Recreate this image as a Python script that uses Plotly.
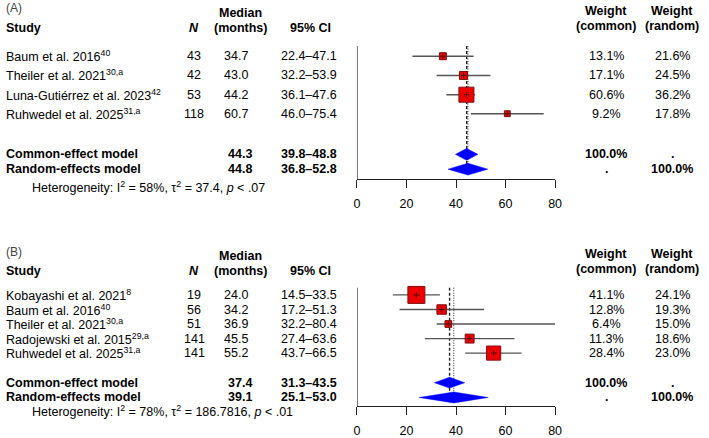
import plotly.graph_objects as go
import math

# ---------------- DATA ----------------
# Panel A
a_studies = ["Baum et al. 2016", "Theiler et al. 2021", "Luna-Gutiérrez et al. 2023", "Ruhwedel et al. 2025"]
a_refs = ["40", "30,a", "42", "31,a"]
a_n = [43, 42, 53, 118]
a_median = [34.7, 43.0, 44.2, 60.7]
a_lo = [22.4, 32.2, 36.1, 46.0]
a_hi = [47.1, 53.9, 47.6, 75.4]
a_w_common = [13.1, 17.1, 60.6, 9.2]
a_w_random = [21.6, 24.5, 36.2, 17.8]
a_common = (44.3, 39.8, 48.8)
a_random = (44.8, 36.8, 52.8)
a_het = "Heterogeneity: I<sup>2</sup> = 58%, τ<sup>2</sup> = 37.4, <i>p</i> &lt; .07"

# Panel B
b_studies = ["Kobayashi et al. 2021", "Baum et al. 2016", "Theiler et al. 2021", "Radojewski et al. 2015", "Ruhwedel et al. 2025"]
b_refs = ["8", "40", "30,a", "29,a", "31,a"]
b_n = [19, 56, 51, 141, 141]
b_median = [24.0, 34.2, 36.9, 45.5, 55.2]
b_lo = [14.5, 17.2, 32.2, 27.4, 43.7]
b_hi = [33.5, 51.3, 80.4, 63.6, 66.5]
b_w_common = [41.1, 12.8, 6.4, 11.3, 28.4]
b_w_random = [24.1, 19.3, 15.0, 18.6, 23.0]
b_common = (37.4, 31.3, 43.5)
b_random = (39.1, 25.1, 53.0)
b_het = "Heterogeneity: I<sup>2</sup> = 78%, τ<sup>2</sup> = 186.7816, <i>p</i> &lt; .01"

x_ticks = [0, 20, 40, 60, 80]

# ---------------- LAYOUT HELPERS ----------------
W, H = 709, 438
FONT = "Liberation Sans, Arial, sans-serif"
FS = 12.5
X0, X1 = 359, 560  # plot x-domain in px

fig = go.Figure()
annotations = []
shapes = []


def px(x):
    return x / W


def py(y):
    return 1 - y / H


def txt(x, y, s, anchor="left", bold=False, size=FS, color="black"):
    if bold:
        s = "<b>" + s + "</b>"
    annotations.append(dict(x=px(x), y=py(y), xref="paper", yref="paper", text=s,
                            showarrow=False, xanchor=anchor, yanchor="middle",
                            font=dict(family=FONT, size=size, color=color)))


def panel(label, label_y, hdr_y1, hdr_y2, rows, sum_rows, het_y, axis_y, vtop,
          studies, refs, ns, med, lo, hi, wc, wr, common, random, het,
          xref, yref, k, dh):
    # headings
    txt(1, label_y, label, size=12, color="#444")
    txt(1, hdr_y2, "Study", bold=True)
    txt(194, hdr_y2, "<i>N</i>", anchor="center", bold=True)
    txt(241, hdr_y1, "Median", anchor="center", bold=True)
    txt(241, hdr_y2, "(months)", anchor="center", bold=True)
    txt(312, hdr_y2, "95% CI", anchor="center", bold=True)
    txt(612, hdr_y1 - 2, "Weight", anchor="center", bold=True)
    txt(612, hdr_y2 - 2, "(common)", anchor="center", bold=True)
    txt(679, hdr_y1 - 2, "Weight", anchor="center", bold=True)
    txt(679, hdr_y2 - 2, "(random)", anchor="center", bold=True)
    # study rows
    for i, y in enumerate(rows):
        txt(1, y, f"{studies[i]}<sup>{refs[i]}</sup>")
        txt(194, y, f"{ns[i]}", anchor="center")
        txt(236, y, f"{med[i]:.1f}", anchor="center")
        txt(341, y, f"{lo[i]:.1f}–{hi[i]:.1f}", anchor="right")
        txt(612, y, f"{wc[i]:.1f}%", anchor="center")
        txt(679, y, f"{wr[i]:.1f}%", anchor="center")
    # summary rows
    txt(1, sum_rows[0], "Common-effect model", bold=True)
    txt(1, sum_rows[1], "Random-effects model", bold=True)
    txt(240, sum_rows[0], f"{common[0]:.1f}", anchor="center", bold=True)
    txt(240, sum_rows[1], f"{random[0]:.1f}", anchor="center", bold=True)
    txt(341, sum_rows[0], f"{common[1]:.1f}–{common[2]:.1f}", anchor="right", bold=True)
    txt(341, sum_rows[1], f"{random[1]:.1f}–{random[2]:.1f}", anchor="right", bold=True)
    txt(612, sum_rows[0], "100.0%", anchor="center", bold=True)
    txt(612, sum_rows[1], ".", anchor="center", bold=True)
    txt(679, sum_rows[0], ".", anchor="center", bold=True)
    txt(679, sum_rows[1], "100.0%", anchor="center", bold=True)
    txt(27, het_y, het)

    # vertical reference line at 0
    shapes.append(dict(type="line", xref=xref, yref=yref, x0=0, x1=0, y0=vtop, y1=axis_y,
                       line=dict(color="#222", width=1.3)))

    # pooled estimate lines
    line_top = vtop
    line_bot = sum_rows[1] + dh
    fig.add_trace(go.Scatter(x=[common[0], common[0]], y=[line_top, line_bot], xaxis=xref, yaxis=yref,
                             mode="lines", line=dict(color="#222", width=1.4, dash="3px,2px"),
                             hoverinfo="skip", showlegend=False))
    fig.add_trace(go.Scatter(x=[random[0], random[0]], y=[line_top, line_bot], xaxis=xref, yaxis=yref,
                             mode="lines", line=dict(color="#222", width=1.0, dash="1px,1.5px"),
                             hoverinfo="skip", showlegend=False))

    # study estimates
    sizes = [k * math.sqrt(w) for w in wc]
    fig.add_trace(go.Scatter(
        x=med, y=rows, xaxis=xref, yaxis=yref, mode="markers",
        marker=dict(symbol="square", size=sizes, color="#ee0000", opacity=1,
                    line=dict(color="#7a1010", width=1)),
        error_x=dict(type="data", symmetric=False,
                     array=[h - m for h, m in zip(hi, med)],
                     arrayminus=[m - l for m, l in zip(med, lo)],
                     color="#555", thickness=1.4, width=0),
        showlegend=False, hoverinfo="skip"))
    fig.add_trace(go.Scatter(
        x=med, y=rows, xaxis=xref, yaxis=yref, mode="markers",
        marker=dict(symbol="cross-thin", size=4, opacity=1, line=dict(color="#4a0a0a", width=1)),
        showlegend=False, hoverinfo="skip"))

    # diamonds
    for (est, l, h), y in zip([common, random], sum_rows):
        fig.add_trace(go.Scatter(
            x=[l, est, h, est, l], y=[y, y - dh, y, y + dh, y], xaxis=xref, yaxis=yref,
            mode="lines", fill="toself", fillcolor="#0000ff",
            line=dict(color="#0000ff", width=0.5), showlegend=False, hoverinfo="skip"))


A_AXIS, B_AXIS, B_TOP = 181.7, 411.7, 220

panel("(A)", 8, 13.5, 28.5, [57, 76.5, 96, 115.3], [156.5, 171.5], 190, A_AXIS, 46.7,
      a_studies, a_refs, a_n, a_median, a_lo, a_hi, a_w_common, a_w_random,
      a_common, a_random, a_het, "x", "y", 1.93, 6)

panel("(B)", 255, 260, 275, [299, 313.8, 328.5, 343.3, 358], [388, 403], 416.7, B_AXIS, 291.7,
      b_studies, b_refs, b_n, b_median, b_lo, b_hi, b_w_common, b_w_random,
      b_common, b_random, b_het, "x2", "y2", 2.65, 5.5)

axis_common = dict(domain=[px(X0), px(X1)], range=[0, 80], tickvals=x_ticks,
                   ticks="outside", ticklen=8, tickwidth=1.3, tickcolor="#222",
                   showline=True, linecolor="#222", linewidth=1.3,
                   showgrid=False, zeroline=False, ticklabelstandoff=5,
                   tickfont=dict(family=FONT, size=12.5, color="black"), fixedrange=True)

fig.update_layout(
    width=W, height=H, autosize=False,
    margin=dict(l=0, r=0, t=0, b=0),
    paper_bgcolor="white", plot_bgcolor="rgba(0,0,0,0)",
    xaxis=dict(axis_common, anchor="y"),
    xaxis2=dict(axis_common, anchor="y2"),
    yaxis=dict(range=[A_AXIS, 0], domain=[1 - A_AXIS / H, 1], visible=False,
               anchor="x", fixedrange=True),
    yaxis2=dict(range=[B_AXIS, B_TOP], domain=[1 - B_AXIS / H, 1 - B_TOP / H], visible=False,
                anchor="x2", fixedrange=True),
    annotations=annotations, shapes=shapes,
    showlegend=False,
)

fig.write_html("out.html")
